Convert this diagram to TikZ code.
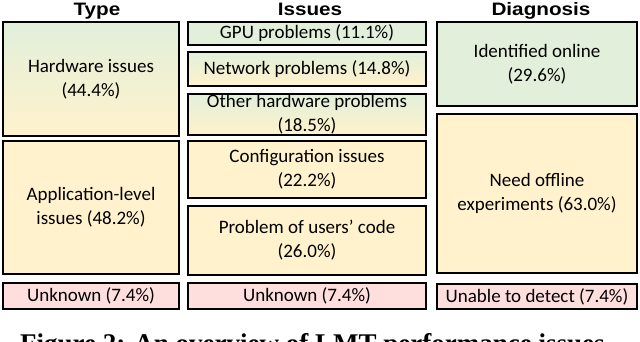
\documentclass[tikz,border=0pt]{standalone}
\usepackage{fontspec}
\setmainfont{Carlito}
\newfontfamily\titlefont[FakeStretch=1.15]{Liberation Sans}
\newfontfamily\capfont{Liberation Serif}
\definecolor{cgreen}{HTML}{E2EFDA}
\definecolor{cyellow}{HTML}{FFF2CC}
\definecolor{cpink}{HTML}{FFDEDE}
\tikzset{
  box/.style={draw=black, line width=2pt, inner sep=0pt, outer sep=0pt, anchor=north west},
  grn/.style={fill=cgreen},
  ylw/.style={fill=cyellow},
  pnk/.style={fill=cpink},
  grad/.style={top color=cgreen, bottom color=cyellow},
  lbl/.style={font=\fontsize{19}{24}\selectfont, align=center, inner sep=0pt},
  coltitle/.style={font=\titlefont\bfseries\fontsize{18}{20}\selectfont, anchor=base, inner sep=0pt},
}
\begin{document}
\begin{tikzpicture}[x=1pt,y=-1pt]
\useasboundingbox (0,0) rectangle (640,341);
\clip (0,0) rectangle (640,341);
% titles
\node[coltitle] (tType) at (97,15.5) {Type};
\node[coltitle] (tIssues) at (310,15.5) {Issues};
\node[coltitle] (tDiag) at (541,15.5) {Diagnosis};
% Type column
\node[box, grad, minimum width=176pt, minimum height=114pt] (hw) at (3,22) {};
\node[lbl] at (hw.center) {Hardware issues\\(44.4\%)};
\node[box, ylw, minimum width=176pt, minimum height=133pt] (app) at (3,141) {};
\node[lbl] at (app.center) {Application-level\\issues (48.2\%)};
\node[box, pnk, minimum width=176pt, minimum height=26pt] (unk1) at (3,283) {};
\node[lbl] at (unk1.center) {Unknown (7.4\%)};
% Issues column
\node[box, grn, minimum width=238pt, minimum height=23pt] (gpu) at (188,22) {};
\node[lbl] at (gpu.center) {GPU problems (11.1\%)};
\node[box, grad, minimum width=238pt, minimum height=34pt] (net) at (188,52) {};
\node[lbl] at (net.center) {Network problems (14.8\%)};
\node[box, grad, minimum width=238pt, minimum height=41pt] (oth) at (188,94) {};
\node[lbl] at (oth.center) {Other hardware problems\\(18.5\%)};
\node[box, ylw, minimum width=238pt, minimum height=57pt] (cfg) at (188,141) {};
\node[lbl] at (cfg.center) {Configuration issues\\(22.2\%)};
\node[box, ylw, minimum width=238pt, minimum height=69pt] (usr) at (188,206) {};
\node[lbl] at (usr.center) {Problem of users’ code\\(26.0\%)};
\node[box, pnk, minimum width=238pt, minimum height=26pt] (unk2) at (188,283) {};
\node[lbl] at (unk2.center) {Unknown (7.4\%)};
% Diagnosis column
\node[box, grn, minimum width=200pt, minimum height=84pt] (idn) at (437,22) {};
\node[lbl] at (idn.center) {Identified online\\(29.6\%)};
\node[box, ylw, minimum width=200pt, minimum height=159pt] (off) at (437,114) {};
\node[lbl] at (off.center) {Need offline\\experiments (63.0\%)};
\node[box, pnk, minimum width=200pt, minimum height=25pt] (una) at (437,284) {};
\node[lbl] at (una.center) {Unable to detect (7.4\%)};
% caption (cut off at the lower edge, as in the reference)
\node[font=\capfont\bfseries\fontsize{27}{30}\selectfont, anchor=base west, inner sep=0pt] (cap) at (20,352) {Figure 2: An overview of LMT performance issues};
\end{tikzpicture}
\end{document}
